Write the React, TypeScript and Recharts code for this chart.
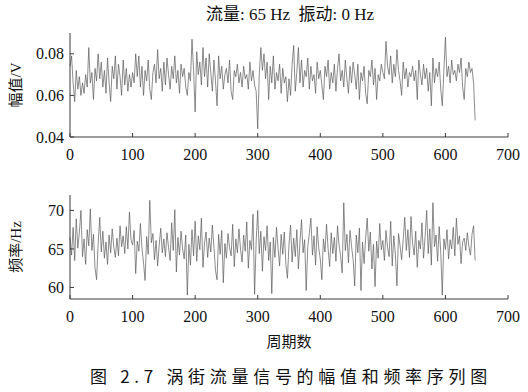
import React from 'react';
import { LineChart, Line, XAxis, YAxis } from 'recharts';

const cycleStep = 2.5;
const xTicks = [0, 100, 200, 300, 400, 500, 600, 700];
const ampTicks = [0.04, 0.06, 0.08];
const freqTicks = [60, 65, 70];
const titleText = '流量: 65 Hz  振动: 0 Hz';
const ampLabel = '幅值/V';
const freqLabel = '频率/Hz';
const xLabel = '周期数';
const caption = '图 2.7 涡街流量信号的幅值和频率序列图';

const amplitude = [
  .074, .079, .066, .057, .072, .063, .069, .060, .066, .061, .070, .064, .083, .066, .071, .058, .073, .067, .080, .068,
  .076, .064, .072, .061, .078, .066, .057, .074, .068, .079, .063, .075, .069, .060, .077, .065, .073, .062, .070, .064,
  .071, .066, .080, .069, .079, .064, .074, .060, .072, .067, .077, .063, .058, .071, .075, .066, .082, .068, .073, .062,
  .076, .065, .078, .070, .063, .074, .068, .079, .066, .072, .061, .075, .069, .073, .064, .060, .071, .067, .087, .072,
  .052, .081, .070, .076, .065, .083, .069, .078, .064, .080, .071, .062, .077, .067, .055, .079, .068, .074, .063, .070,
  .073, .066, .077, .062, .058, .072, .069, .075, .066, .071, .064, .074, .068, .070, .063, .076, .067, .072, .065, .062,
  .044, .070, .083, .072, .080, .068, .076, .058, .074, .066, .079, .063, .071, .067, .075, .061, .073, .066, .069, .057,
  .068, .060, .075, .084, .062, .071, .083, .066, .077, .064, .072, .069, .078, .063, .074, .067, .070, .061, .076, .068,
  .072, .065, .058, .074, .069, .077, .063, .071, .066, .075, .062, .073, .080, .067, .072, .064, .077, .068, .061, .074,
  .066, .076, .070, .063, .075, .058, .071, .067, .074, .061, .056, .072, .069, .077, .065, .073, .058, .070, .067, .075,
  .071, .068, .086, .074, .070, .079, .066, .075, .069, .082, .072, .067, .060, .076, .068, .073, .064, .071, .069, .074,
  .067, .072, .058, .077, .070, .065, .075, .068, .073, .062, .071, .055, .078, .066, .073, .069, .076, .063, .055, .072,
  .088, .069, .074, .066, .077, .070, .072, .067, .075, .071, .078, .064, .058, .073, .069, .076, .071, .073, .066, .048,
];

const frequency = [
  66.5, 64.2, 67.8, 63.5, 68.9, 65.1, 67.2, 70.0, 64.0, 66.3, 63.0, 67.5, 65.4, 70.2, 64.8, 66.9, 62.5, 61.0, 65.7, 69.1,
  64.6, 67.3, 63.8, 65.9, 63.0, 66.8, 64.5, 67.6, 65.2, 63.9, 66.4, 64.1, 68.0, 65.3, 66.7, 64.4, 67.9, 65.0, 69.8, 66.2,
  65.5, 67.4, 61.8, 66.0, 64.7, 68.3, 65.1, 63.2, 60.9, 66.6, 64.3, 71.3, 65.8, 67.0, 63.6, 66.1, 62.8, 65.4, 67.7, 64.5,
  66.3, 64.0, 67.1, 65.2, 63.5, 68.4, 64.8, 70.1, 62.0, 66.5, 64.2, 67.3, 65.0, 63.7, 66.8, 59.0, 65.6, 62.9, 67.5, 64.1,
  68.6, 63.4, 66.7, 64.9, 69.0, 62.6, 65.8, 67.2, 63.9, 66.4, 64.6, 68.1, 65.3, 62.2, 61.0, 66.9, 64.3, 67.4, 60.6, 65.7,
  63.8, 67.0, 65.2, 64.1, 68.2, 62.7, 66.3, 64.5, 67.6, 65.0, 63.3, 66.8, 64.7, 68.5, 62.5, 66.1, 64.9, 69.5, 59.1, 66.0,
  70.0, 64.4, 67.3, 62.1, 66.6, 64.8, 68.0, 63.5, 65.9, 59.2, 66.5, 63.9, 67.8, 65.1, 62.8, 66.9, 64.3, 67.2, 63.0, 61.2,
  65.6, 68.1, 63.3, 66.4, 64.0, 67.5, 62.4, 65.8, 68.8, 64.5, 66.2, 59.6, 65.3, 67.0, 69.0, 64.2, 66.7, 62.9, 67.9, 65.1,
  63.7, 61.0, 66.3, 64.6, 68.2, 65.0, 62.7, 67.1, 64.4, 66.5, 63.4, 68.0, 65.5, 64.1, 61.9, 71.0, 64.8, 66.9, 63.2, 67.4,
  65.3, 63.6, 60.2, 66.8, 64.5, 67.7, 59.6, 65.9, 63.1, 66.4, 69.0, 64.7, 67.2, 62.4, 65.6, 60.1, 66.0, 63.8, 68.3, 64.9,
  66.1, 63.5, 67.4, 65.2, 64.0, 68.6, 62.8, 66.7, 64.3, 60.2, 67.0, 65.4, 63.6, 66.2, 69.1, 64.8, 67.5, 63.9, 69.2, 65.7,
  64.2, 67.3, 62.6, 66.1, 65.0, 68.4, 63.8, 66.5, 70.0, 64.4, 67.6, 62.9, 71.0, 65.3, 66.8, 63.4, 67.9, 64.6, 59.0, 66.3,
  64.9, 67.5, 63.7, 66.2, 65.0, 67.8, 64.1, 69.0, 65.6, 66.7, 63.1, 65.9, 66.4, 64.8, 67.1, 65.3, 64.2, 66.9, 68.0, 63.5,
];

const ampData = amplitude.map((v, i) => ({ cycle: i * cycleStep, v }));
const freqData = frequency.map((v, i) => ({ cycle: i * cycleStep, v }));

const serif = '"Liberation Serif", "Noto Sans CJK SC", serif';
const cjk = '"Noto Sans CJK SC", sans-serif';
const axisColor = '#3a3a3a';
const tickStyle = { fill: '#111', fontSize: 16, fontFamily: serif };

function Panel(props: {
  data: { cycle: number; v: number }[];
  domain: [number, number];
  yTicks: number[];
  fmt: (v: number) => string;
  label: string;
  top: number;
  height: number;
  marginTop: number;
  xAxisHeight: number;
}) {
  const { data, domain, yTicks, fmt, label, top, height, marginTop, xAxisHeight } = props;
  return (
    <div style={{ position: 'absolute', left: 0, top, width: 528, height }}>
      <LineChart width={528} height={height} data={data} margin={{ top: marginTop, right: 20, bottom: 0, left: 0 }}>
        <XAxis
          dataKey="cycle"
          type="number"
          domain={[0, 700]}
          ticks={xTicks}
          interval={0}
          stroke={axisColor}
          tickSize={-4}
          tickMargin={16}
          height={xAxisHeight}
          tick={tickStyle}
        />
        <XAxis
          xAxisId="top"
          orientation="top"
          type="number"
          domain={[0, 700]}
          ticks={xTicks}
          interval={0}
          stroke={axisColor}
          tickSize={-4}
          height={0}
          tick={false}
        />
        <YAxis
          type="number"
          domain={domain}
          ticks={yTicks}
          interval={0}
          stroke={axisColor}
          tickSize={-4}
          tickMargin={10}
          width={70}
          tick={tickStyle}
          tickFormatter={fmt}
          allowDataOverflow
          label={{
            value: label,
            angle: -90,
            position: 'insideLeft',
            offset: 16,
            style: { textAnchor: 'middle', fill: '#111', fontSize: 15, fontFamily: serif },
          }}
        />
        <YAxis
          yAxisId="right"
          orientation="right"
          type="number"
          domain={domain}
          ticks={yTicks}
          interval={0}
          stroke={axisColor}
          tickSize={-4}
          width={0}
          tick={false}
          allowDataOverflow
        />
        <Line
          type="linear"
          dataKey="v"
          stroke="#5a5a5a"
          strokeWidth={0.7}
          dot={false}
          isAnimationActive={false}
        />
      </LineChart>
    </div>
  );
}

export default function App() {
  return (
    <div style={{ position: 'absolute', left: 0, top: 0, width: 528, height: 392, background: '#fff', overflow: 'hidden' }}>
      <div
        style={{
          position: 'absolute', left: 70, top: 4, width: 440, textAlign: 'center',
          fontSize: 17, fontFamily: serif, color: '#111', whiteSpace: 'pre', lineHeight: '22px',
        }}
      >
        {titleText}
      </div>
      <Panel
        data={ampData}
        domain={[0.04, 0.09]}
        yTicks={ampTicks}
        fmt={(v) => v.toFixed(2)}
        label={ampLabel}
        top={0}
        height={172}
        marginTop={33}
        xAxisHeight={35}
      />
      <Panel
        data={freqData}
        domain={[58.5, 72]}
        yTicks={freqTicks}
        fmt={(v) => String(v)}
        label={freqLabel}
        top={160}
        height={180}
        marginTop={35}
        xAxisHeight={41}
      />
      <div
        style={{
          position: 'absolute', left: 70, top: 331, width: 438, textAlign: 'center',
          fontSize: 15, fontFamily: cjk, color: '#111', lineHeight: '20px',
        }}
      >
        {xLabel}
      </div>
      <div
        style={{
          position: 'absolute', left: 90, top: 365, width: 438, textAlign: 'left',
          fontSize: 17, fontFamily: cjk, color: '#111', letterSpacing: 4.7, lineHeight: '22px', whiteSpace: 'pre',
        }}
      >
        {caption}
      </div>
    </div>
  );
}
